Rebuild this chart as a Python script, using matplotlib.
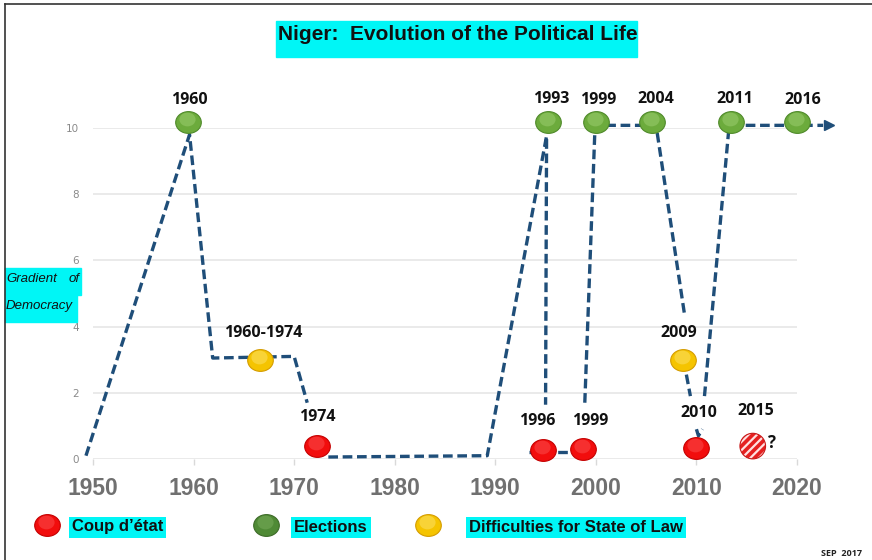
import numpy as np
import matplotlib.pyplot as plt
from matplotlib.patches import Rectangle
from matplotlib.lines import Line2D
from matplotlib.path import Path
from matplotlib.transforms import Affine2D, offset_copy

# Path of the "gradient of democracy" line, drawn as separate dashed pieces
line_segments = [
    ([1949.3, 1959.6, 1961.9, 1970.0, 1971.3], [0.1, 9.8, 3.05, 3.1, 1.7]),
    ([1973.4, 1989.2, 1995.1, 1995.0], [0.06, 0.1, 9.76, 1.64]),
    ([1993.4, 1997.4], [0.21, 0.21]),
    ([1998.9, 1999.9, 2000.2, 2005.6], [1.7, 9.9, 10.08, 10.08]),
    ([2006.1, 2008.8], [9.85, 4.4]),
    ([2009.0, 2009.4], [2.55, 1.9]),
    ([2010.0, 2010.2, 2010.6], [0.9, 0.7, 0.9]),
    ([2010.8, 2013.2, 2013.5, 2022.6], [1.9, 9.9, 10.08, 10.08]),
]
arrow_tip = (2023.2, 10.08)

# events
election_years = [1959.4, 1995.2, 2000.0, 2005.6, 2013.4, 2020.0]
election_vals = [10.18, 10.18, 10.18, 10.18, 10.18, 10.18]
coup_years = [1972.3, 1994.7, 1998.7, 2010.0]
coup_vals = [0.4, 0.28, 0.3, 0.33]
difficulty_years = [1966.6, 2008.65]
difficulty_vals = [3.0, 3.0]
uncertain_year = [2015.6]
uncertain_val = [0.39]

# labels of the events
label_texts = ['1960', '1993', '1999', '2004', '2011', '2016',
               '1960-1974', '1974', '1996', '1999', '2009', '2010', '2015']
label_x = [1959.6, 1995.6, 2000.2, 2006.0, 2013.8, 2020.6,
           1966.9, 1972.3, 1994.2, 1999.4, 2008.2, 2010.2, 2015.9]
label_y = [10.85, 10.88, 10.85, 10.88, 10.88, 10.85,
           3.82, 1.27, 1.15, 1.15, 3.82, 1.39, 1.45]

x_ticks = [1950, 1960, 1970, 1980, 1990, 2000, 2010, 2020]
y_ticks = [0, 2, 4, 6, 8, 10]

W, H = 872, 560
CYAN = '#00f6f6'
LINE = '#1f4e79'


def fx(px):
    return px / W


def fy(py):
    return 1 - py / H


fig = plt.figure(figsize=(8.72, 5.6), dpi=100)
ax = fig.add_axes([fx(93), fy(459), (797 - 93) / W, (459 - 128) / H])
ax.set_xlim(1950, 2020)
ax.set_ylim(0, 10)
for s in ax.spines.values():
    s.set_visible(False)
ax.set_xticks(x_ticks)
ax.set_yticks(y_ticks)
ax.tick_params(axis='x', length=4, width=1, color='#d9d9d9', pad=9,
               labelsize=16.5, labelcolor='#707070')
ax.tick_params(axis='y', length=0, pad=10, labelsize=7.5, labelcolor='#8a8a8a')
for t in ax.get_xticklabels():
    t.set_fontfamily('Liberation Sans')
    t.set_fontweight('bold')
ax.yaxis.grid(True, color='#e6e6e6', lw=1.2)
ax.set_axisbelow(True)

for xs, ys in line_segments:
    ax.plot(xs, ys, color=LINE, lw=2.4, ls=(0, (2.9, 1.4)),
            dash_capstyle='butt', clip_on=False, zorder=3)
ax.plot(*arrow_tip, marker='>', ms=7, color=LINE, clip_on=False, zorder=3)

ell = Path.unit_circle().transformed(Affine2D().scale(1.0, 0.85))
hl = offset_copy(ax.transData, fig=fig, x=-1, y=3, units='dots')


def balls(xs, ys, main, dark, light, trans=None, size=340):
    kw = dict(marker=ell, clip_on=False, zorder=5)
    if trans is not None:
        kw['transform'] = trans
    ax.scatter(xs, ys, s=size, color=main, edgecolors=dark, linewidths=0.8, **kw)
    t2 = hl if trans is None else offset_copy(trans, fig=fig, x=-1, y=3, units='dots')
    kw['transform'] = t2
    kw['zorder'] = 6
    ax.scatter(xs, ys, s=size * 0.4, color=light, alpha=0.35,
               linewidths=0, **kw)


balls(election_years, election_vals, '#6cab3c', '#4f8a2a', '#b5df8a')
balls(coup_years, coup_vals, '#f20d0d', '#c40000', '#ff7070')
balls(difficulty_years, difficulty_vals, '#f5c400', '#d49c00', '#fff0a0')

plt.rcParams['hatch.linewidth'] = 1.6
ax.scatter(uncertain_year, uncertain_val, s=340, marker='o', facecolor='#e52020',
           edgecolor='#ffe0e0', hatch='////', linewidths=0, clip_on=False, zorder=5)
ax.scatter(uncertain_year, uncertain_val, s=340, marker='o', facecolor='none',
           edgecolor='#c81818', linewidths=0.8, clip_on=False, zorder=6)
ax.text(2017.5, 0.48, '?', fontsize=12, fontweight='bold', family='Open Sans',
        ha='center', va='center', color='#111111', zorder=7)

for txt, x, y in zip(label_texts, label_x, label_y):
    ax.text(x, y, txt, fontsize=11.5, fontweight='bold', family='Open Sans',
            ha='center', va='center', color='#111111', zorder=7)

# title
fig.patches.append(Rectangle((fx(276), fy(57)), (637 - 276) / W, 36 / H,
                             transform=fig.transFigure, color=CYAN, zorder=0))
fig.text(fx(278), fy(40), 'Niger:  Evolution of the Political Life',
         fontsize=15, fontweight='bold', family='Liberation Sans',
         ha='left', va='baseline', color='#111111')

# y label
fig.patches.append(Rectangle((fx(5), fy(295)), 76 / W, 27 / H,
                             transform=fig.transFigure, color=CYAN, zorder=0))
fig.patches.append(Rectangle((fx(5), fy(322)), 72 / W, 28 / H,
                             transform=fig.transFigure, color=CYAN, zorder=0))
fig.text(fx(6), fy(282), 'Gradient', fontsize=9.5, style='italic',
         family='Liberation Sans', va='baseline', ha='left', color='#111111')
fig.text(fx(80), fy(282), 'of', fontsize=9.5, style='italic',
         family='Liberation Sans', va='baseline', ha='right', color='#111111')
fig.text(fx(6), fy(309), 'Democracy', fontsize=9.5, style='italic',
         family='Liberation Sans', va='baseline', ha='left', color='#111111')

# legend
leg_ball_x = [47, 266, 428]
leg_colors = [('#f20d0d', '#c40000', '#ff7070'),
              ('#4f8a35', '#3d6b28', '#8fbf70'),
              ('#f5c400', '#d49c00', '#fff0a0')]
leg_text = ['Coup d\u2019état', 'Elections', 'Difficulties for State of Law']
leg_text_x = [72, 294, 469]
for bx, (c1, c2, c3), tx, lbl in zip(leg_ball_x, leg_colors, leg_text_x, leg_text):
    balls([fx(bx)], [fy(525)], c1, c2, c3, trans=fig.transFigure)
    fig.text(fx(tx), fy(527), lbl, fontsize=12, fontweight='bold',
             family='Liberation Sans', ha='left', va='center', color='#111111',
             bbox=dict(facecolor=CYAN, edgecolor='none', pad=2.2))

fig.text(fx(862), fy(553), 'SEP  2017', fontsize=6.5, fontweight='bold',
         family='Open Sans', ha='right', va='center', color='#222222')

# frame lines
fig.add_artist(Line2D([fx(5), 1], [fy(4), fy(4)], color='#333333', lw=1.2))
fig.add_artist(Line2D([fx(5), fx(5)], [fy(4), 0], color='#333333', lw=1.2))

fig.savefig('out.png', dpi=100)
